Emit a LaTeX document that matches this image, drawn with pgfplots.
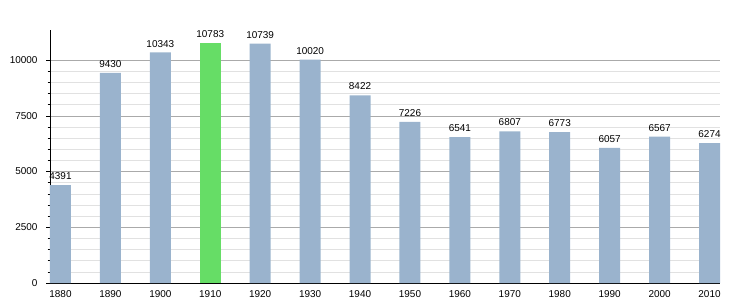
\documentclass[border=0pt]{standalone}
\usepackage{fontspec}
\setmainfont{Liberation Sans}
\usepackage{pgfplots}
\pgfplotsset{compat=1.18}
\definecolor{barblue}{RGB}{154,179,205}
\definecolor{bargreen}{RGB}{102,221,102}
\definecolor{majgrid}{RGB}{170,170,170}
\definecolor{mingrid}{RGB}{225,225,225}
\begin{document}
\begin{tikzpicture}
\useasboundingbox (-50bp,-17bp) rectangle (700bp,283bp);
\begin{axis}[
  at={(0,0)}, anchor=south west,
  scale only axis,
  width=670bp, height=253bp,
  xmin=1877.9, xmax=2012.1,
  ymin=0, ymax=11350,
  axis x line*=bottom,
  axis y line*=left,
  axis line style={black, line width=0.8pt},
  ybar, bar width=21bp, bar shift=0pt,
  xtick={1880,1890,...,2010},
  ytick={0,2500,5000,7500,10000},
  scaled y ticks=false,
  scaled x ticks=false,
  minor y tick num=4,
  tick align=outside,
  major tick length=4bp,
  minor tick length=2.5bp,
  x tick style={draw=none},
  y tick style={black, line width=0.6pt},
  ymajorgrids, yminorgrids,
  major grid style={majgrid, line width=0.6pt},
  minor grid style={mingrid, line width=0.6pt},
  /pgf/number format/1000 sep={},
  /pgf/number format/assume math mode=true,
  tick label style={font=\fontsize{10}{12}\selectfont},
  yticklabel style={xshift=-5bp},
  nodes near coords,
  nodes near coords style={font=\fontsize{10}{12}\selectfont, black, inner sep=2bp, yshift=3bp},
  every axis plot/.append style={draw=none},
  clip=false,
]
\addplot[fill=barblue] coordinates {
(1880,4391) (1890,9430) (1900,10343) (1920,10739) (1930,10020)
(1940,8422) (1950,7226) (1960,6541) (1970,6807) (1980,6773)
(1990,6057) (2000,6567) (2010,6274)};
\addplot[fill=bargreen] coordinates {(1910,10783)};
\end{axis}
\end{tikzpicture}
\end{document}
